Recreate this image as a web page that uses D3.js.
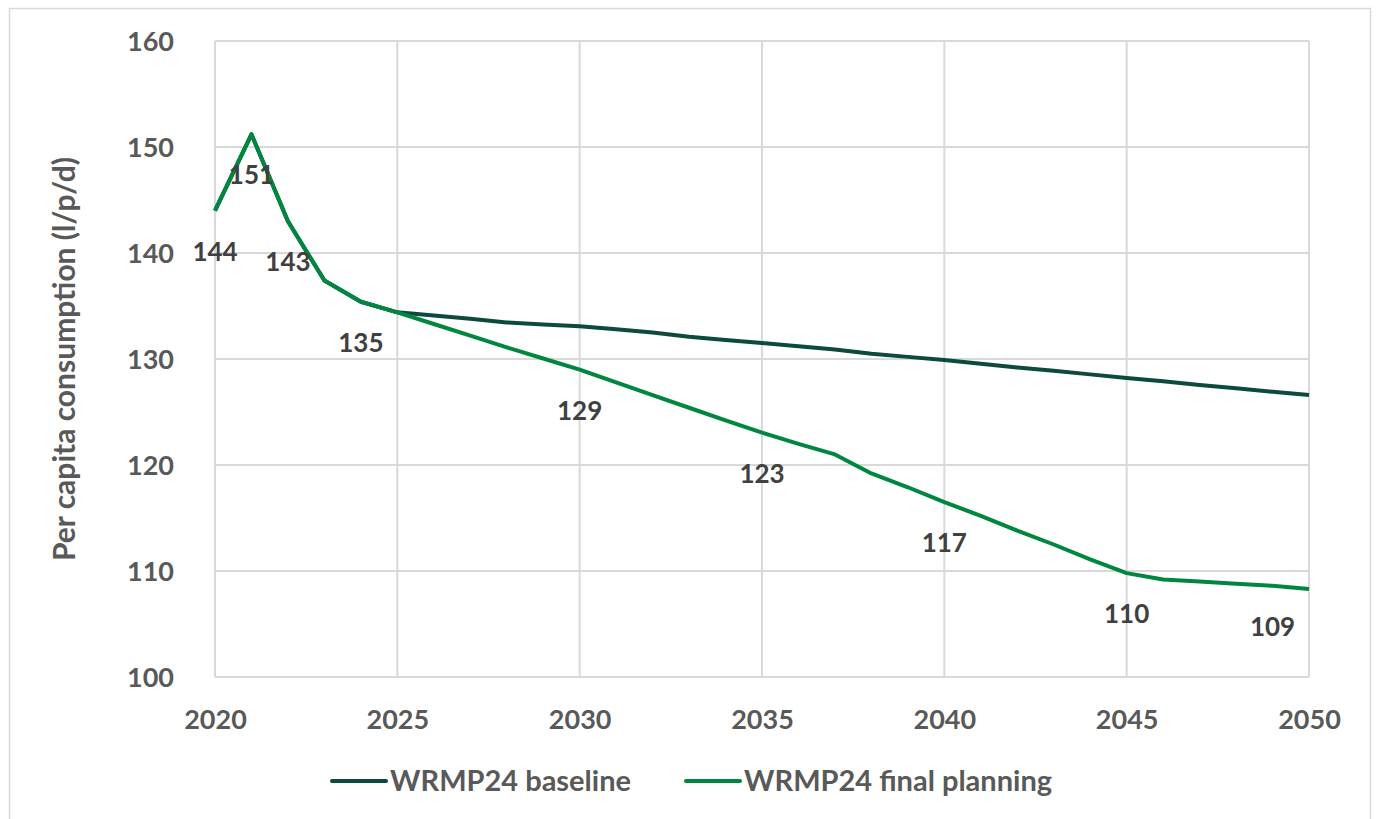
<!DOCTYPE html>
<html>
<head>
<meta charset="utf-8">
<script src="https://cdn.jsdelivr.net/npm/d3@7"></script>
<style>
  html, body { margin: 0; padding: 0; background: #ffffff; }
  svg { display: block; font-family: Lato, "Open Sans", sans-serif; }
</style>
</head>
<body>
<svg id="chart" width="1376" height="819"></svg>
<script>
// Per capita consumption, litres per person per day
const years = d3.range(2020, 2051);
const baseline = [
  144.0, 151.2, 143.0, 137.4, 135.4, 134.4, 134.1, 133.8, 133.45, 133.25,
  133.1, 132.8, 132.5, 132.1, 131.8, 131.5, 131.2, 130.9, 130.5, 130.2,
  129.9, 129.55, 129.2, 128.9, 128.55, 128.2, 127.9, 127.55, 127.25, 126.9,
  126.6
];
const finalPlanning = [
  144.0, 151.2, 143.0, 137.4, 135.4, 134.4, 133.3, 132.2, 131.1, 130.05,
  129.0, 127.8, 126.6, 125.4, 124.2, 123.05, 122.0, 121.0, 119.2, 117.9,
  116.5, 115.2, 113.8, 112.5, 111.1, 109.8, 109.2, 109.0, 108.8, 108.6,
  108.3
];
// Years whose planning value is written on the chart
const labelYears = [2020, 2021, 2022, 2024, 2030, 2035, 2040, 2045, 2049];
const xTicks = [2020, 2025, 2030, 2035, 2040, 2045, 2050];
const yTicks = [100, 110, 120, 130, 140, 150, 160];
const seriesNames = ["WRMP24 baseline", "WRMP24 final planning"];
const seriesColors = ["#0b4a3d", "#00873f"];

const svg = d3.select("#chart");
const plot = { left: 215, right: 1309, top: 41, bottom: 677 };

// outer chart frame
svg.append("rect")
  .attr("x", 9.5).attr("y", 8.5)
  .attr("width", 1361).attr("height", 830)
  .attr("fill", "none").attr("stroke", "#d9d9d9").attr("stroke-width", 1.5);

const x = d3.scaleLinear().domain([2020, 2050]).range([plot.left, plot.right]);
const y = d3.scaleLinear().domain([100, 160]).range([plot.bottom, plot.top]);

// gridlines
const grid = svg.append("g").attr("stroke", "#d9d9d9").attr("stroke-width", 2);
grid.selectAll("line.h").data(yTicks).join("line")
  .attr("x1", plot.left).attr("x2", plot.right)
  .attr("y1", d => y(d)).attr("y2", d => y(d));
grid.selectAll("line.v").data(xTicks).join("line")
  .attr("y1", plot.top).attr("y2", plot.bottom)
  .attr("x1", d => x(d)).attr("x2", d => x(d));

// axes (labels only, lines come from the grid)
const xAxis = svg.append("g")
  .attr("transform", `translate(0,${plot.bottom + 30})`)
  .call(d3.axisBottom(x).tickValues(xTicks).tickFormat(d3.format("d")).tickSize(0));
const yAxis = svg.append("g")
  .attr("transform", `translate(${plot.left - 38},0)`)
  .call(d3.axisLeft(y).tickValues(yTicks).tickSize(0));
[xAxis, yAxis].forEach(a => {
  a.select(".domain").remove();
  a.selectAll("text")
    .attr("fill", "#595959")
    .style("font-family", "Lato, sans-serif")
    .style("font-size", "27px")
    .style("font-weight", "bold");
});
yAxis.selectAll("text").attr("dy", "0.36em");
xAxis.selectAll("text").attr("dy", "0.72em");

// y axis title
svg.append("text")
  .attr("transform", `translate(75,${(plot.top + plot.bottom) / 2}) rotate(-90)`)
  .attr("text-anchor", "middle")
  .attr("fill", "#595959")
  .style("font-size", "30px").style("font-weight", "bold")
  .text("Per capita consumption (l/p/d)");

// series lines
const line = d3.line().x((d, i) => x(years[i])).y(d => y(d));
[baseline, finalPlanning].forEach((vals, k) => {
  svg.append("path")
    .datum(vals)
    .attr("fill", "none")
    .attr("stroke", seriesColors[k])
    .attr("stroke-width", 4)
    .attr("stroke-linejoin", "round")
    .attr("d", line);
});

// value labels below the planning line
svg.append("g").selectAll("text").data(labelYears).join("text")
  .attr("x", d => x(d))
  .attr("y", d => y(finalPlanning[years.indexOf(d)]) + 50)
  .attr("text-anchor", "middle")
  .attr("fill", "#404040")
  .style("font-size", "26px").style("font-weight", "bold")
  .text(d => Math.round(finalPlanning[years.indexOf(d)]));

// legend
const legend = svg.append("g");
const legendX = [332, 686];
seriesNames.forEach((name, k) => {
  const g = legend.append("g").attr("transform", `translate(${legendX[k]},781)`);
  g.append("line").attr("x1", 0).attr("x2", 54)
    .attr("stroke", seriesColors[k]).attr("stroke-width", 4).attr("stroke-linecap", "round");
  g.append("text").attr("x", 58).attr("y", 10)
    .attr("fill", "#595959")
    .style("font-size", "29px").style("font-weight", "bold")
    .text(name);
});
</script>
</body>
</html>
